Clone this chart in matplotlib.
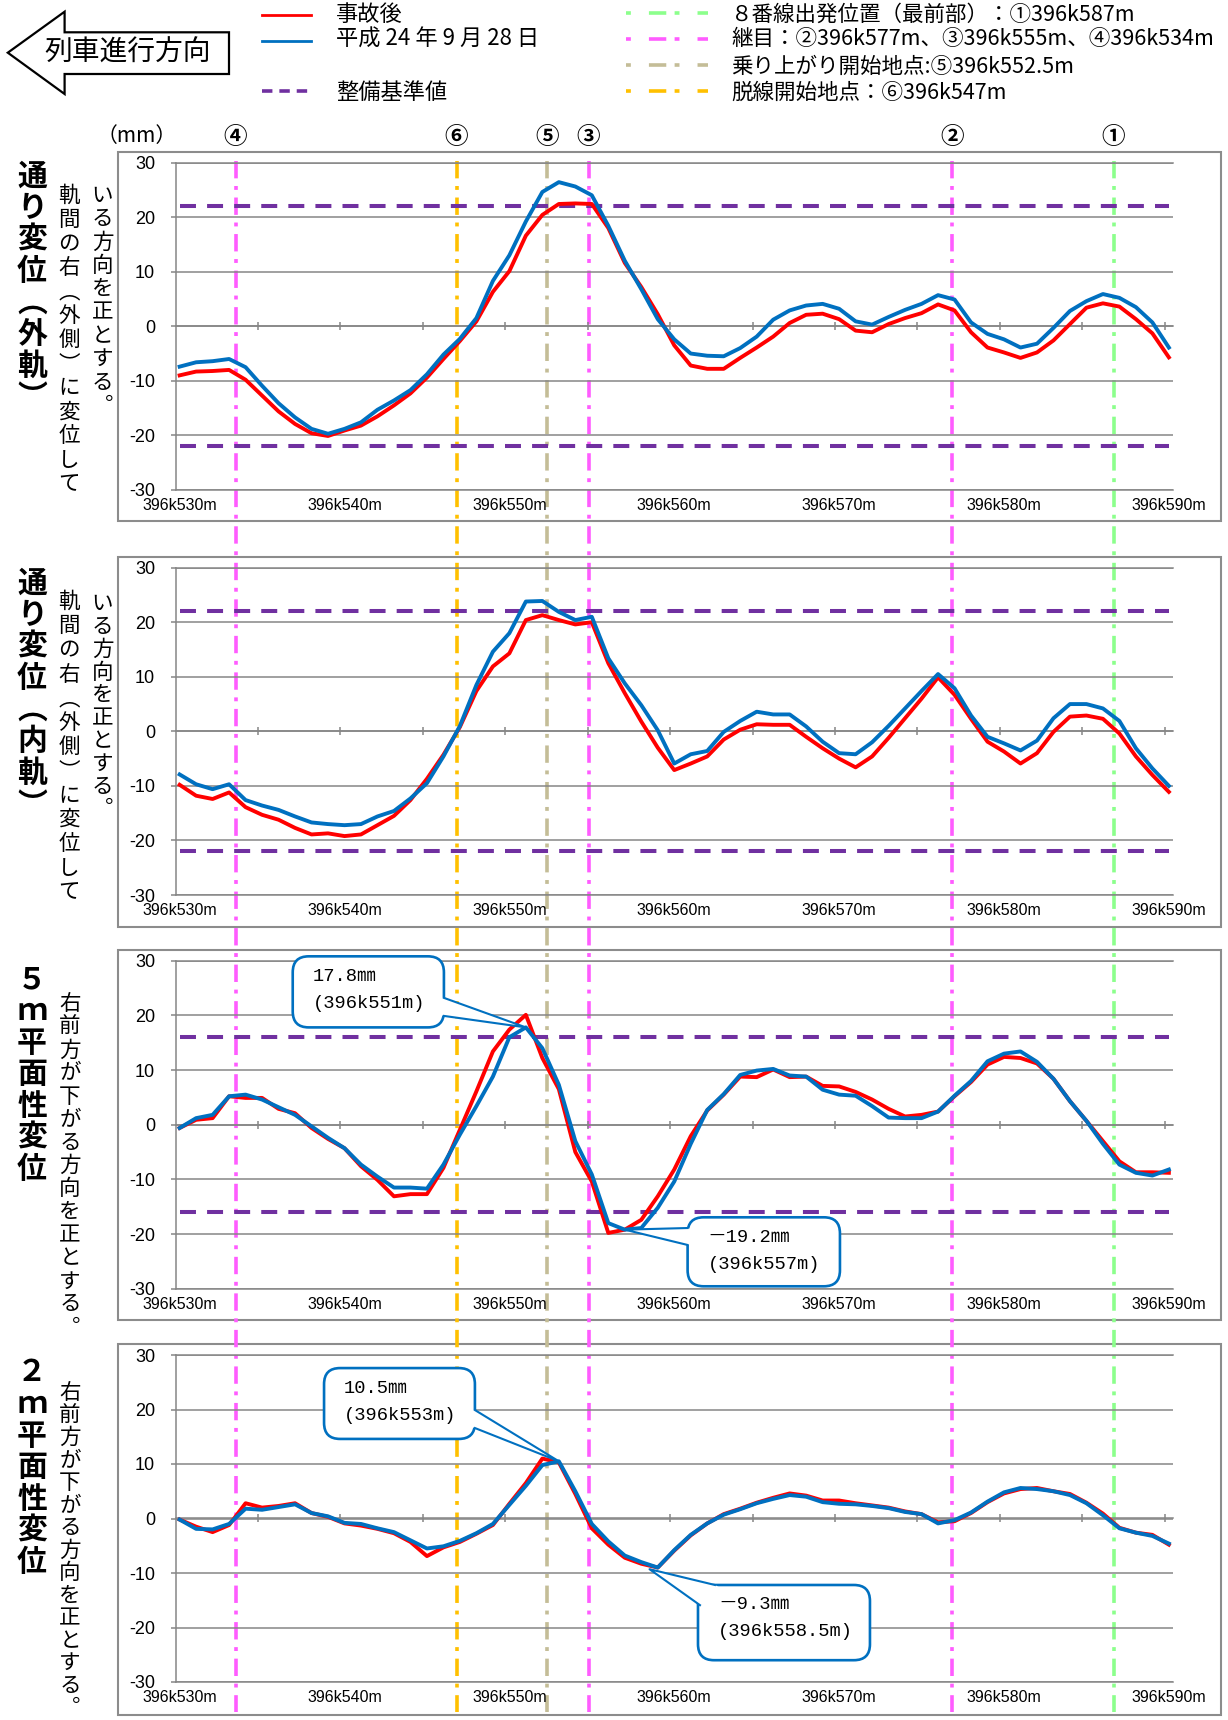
import numpy as np
import matplotlib
matplotlib.use("Agg")
import matplotlib.pyplot as plt
from matplotlib.patches import FancyBboxPatch, Polygon, Rectangle
from matplotlib.lines import Line2D
from matplotlib.transforms import IdentityTransform, blended_transform_factory

plt.rcParams['lines.scale_dashes'] = False
plt.rcParams['font.family'] = ['Noto Sans CJK JP', 'DejaVu Sans']

# ---------------- data ----------------
distance_m = list(range(530, 591))

align_outer_after = [-9.0, -8.3, -8.2, -8.0, -9.8, -12.7, -15.6, -17.9, -19.6, -20.1,
                     -19.1, -18.2, -16.5, -14.5, -12.3, -9.4, -6.0, -2.7, 0.9, 6.3,
                     10.1, 16.6, 20.4, 22.4, 22.5, 22.4, 18.0, 11.6, 7.2, 2.2,
                     -3.5, -7.2, -7.8, -7.8, -5.8, -3.9, -1.9, 0.6, 2.1, 2.3,
                     1.3, -0.8, -1.1, 0.4, 1.5, 2.4, 4.0, 2.9, -1.1, -3.9,
                     -4.8, -5.8, -4.8, -2.6, 0.4, 3.4, 4.2, 3.6, 1.3, -1.3,
                     -5.7]
align_outer_2012 = [-7.4, -6.6, -6.4, -6.0, -7.5, -10.9, -14.1, -16.7, -18.8, -19.7,
                    -18.8, -17.6, -15.3, -13.6, -11.7, -8.8, -5.2, -2.3, 1.5, 8.3,
                    13.0, 19.2, 24.6, 26.4, 25.6, 24.0, 18.4, 12.0, 6.8, 1.3,
                    -2.4, -5.0, -5.4, -5.5, -4.0, -1.9, 1.2, 2.9, 3.8, 4.1,
                    3.2, 0.9, 0.3, 1.7, 3.0, 4.1, 5.7, 4.9, 0.7, -1.4,
                    -2.4, -3.9, -3.2, -0.3, 2.8, 4.6, 5.9, 5.2, 3.5, 0.7,
                    -3.9]
align_inner_after = [-9.8, -11.8, -12.4, -11.2, -13.9, -15.3, -16.2, -17.7, -18.9, -18.7,
                     -19.2, -18.9, -17.2, -15.5, -12.6, -8.7, -4.3, 0.8, 7.4, 11.9,
                     14.3, 20.4, 21.3, 20.4, 19.6, 20.0, 12.5, 7.0, 1.8, -3.0,
                     -7.1, -5.9, -4.6, -1.5, 0.3, 1.3, 1.2, 1.2, -1.0, -3.1,
                     -5.0, -6.6, -4.6, -1.2, 2.4, 6.0, 9.9, 6.7, 2.3, -1.9,
                     -3.7, -5.9, -4.0, -0.1, 2.7, 2.9, 2.3, -0.4, -4.6, -8.0,
                     -11.1]
align_inner_2012 = [-7.9, -9.7, -10.6, -9.7, -12.6, -13.6, -14.4, -15.6, -16.7, -17.0,
                    -17.2, -17.0, -15.6, -14.6, -12.3, -9.5, -4.6, 1.0, 8.5, 14.6,
                    18.0, 23.8, 23.9, 21.9, 20.4, 21.0, 13.4, 8.8, 4.8, 0.2,
                    -5.9, -4.2, -3.6, -0.1, 1.9, 3.6, 3.1, 3.1, 0.9, -1.9,
                    -4.0, -4.2, -2.0, 1.0, 4.2, 7.4, 10.5, 7.9, 2.9, -1.0,
                    -2.2, -3.5, -1.7, 2.4, 5.0, 5.0, 4.2, 1.9, -3.1, -6.8,
                    -10.0]
twist5_after = [-0.6, 0.9, 1.2, 5.2, 4.9, 4.9, 2.9, 2.1, -0.6, -2.6,
                -4.3, -7.6, -10.1, -13.1, -12.7, -12.7, -7.9, -0.9, 6.1, 13.4,
                17.4, 20.1, 12.2, 6.5, -5.0, -10.4, -19.8, -19.2, -17.4, -13.1,
                -8.2, -2.1, 2.6, 5.5, 8.8, 8.7, 10.1, 8.7, 8.8, 7.1,
                7.0, 6.0, 4.6, 2.9, 1.5, 1.8, 2.4, 5.2, 7.8, 11.0,
                12.4, 12.2, 11.2, 8.4, 4.3, 0.7, -3.0, -6.7, -8.7, -8.7,
                -8.8]
twist5_2012 = [-0.6, 1.2, 1.8, 5.2, 5.5, 4.6, 3.2, 1.8, -0.3, -2.4,
               -4.3, -7.3, -9.5, -11.5, -11.5, -11.7, -7.3, -1.8, 3.4, 8.8,
               16.0, 17.8, 14.0, 7.3, -3.0, -9.1, -18.0, -19.2, -18.9, -15.2,
               -10.4, -3.5, 2.7, 5.6, 9.1, 9.9, 10.2, 9.0, 8.8, 6.4,
               5.5, 5.3, 3.4, 1.3, 1.2, 1.2, 2.4, 5.3, 8.0, 11.6,
               13.0, 13.4, 11.5, 8.4, 4.3, 0.7, -3.5, -7.3, -8.8, -9.3,
               -8.2]
twist2_after = [-0.2, -1.5, -2.5, -1.2, 2.8, 2.0, 2.3, 2.8, 1.0, 0.3,
                -0.9, -1.3, -1.9, -2.7, -4.3, -6.9, -5.3, -4.3, -2.8, -1.2,
                2.7, 6.5, 11.0, 10.3, 4.5, -1.8, -4.8, -7.2, -8.3, -9.0,
                -5.9, -3.1, -0.9, 0.8, 1.8, 2.9, 3.8, 4.6, 4.2, 3.3,
                3.3, 2.8, 2.4, 2.0, 1.3, 0.8, -0.7, -0.5, 1.0, 3.0,
                4.6, 5.4, 5.6, 5.0, 4.5, 2.9, 0.9, -1.7, -2.6, -3.0,
                -4.8]
twist2_2012 = [-0.2, -1.9, -2.0, -1.0, 1.8, 1.6, 2.1, 2.6, 1.0, 0.4,
               -0.8, -1.0, -1.8, -2.5, -4.0, -5.5, -5.1, -4.1, -2.7, -1.0,
               2.5, 6.0, 9.8, 10.5, 5.0, -1.0, -4.2, -6.8, -8.0, -9.0,
               -5.8, -3.0, -0.9, 0.7, 1.7, 2.8, 3.6, 4.3, 4.0, 3.0,
               2.7, 2.6, 2.3, 1.9, 1.2, 0.8, -0.9, -0.3, 1.1, 3.1,
               4.8, 5.6, 5.4, 5.0, 4.3, 2.8, 0.6, -1.8, -2.6, -3.2,
               -4.6]

tolerance_mm = [22, 22, 16, None]
y_ticks = [-30, -20, -10, 0, 10, 20, 30]
x_tick_values = [530, 540, 550, 560, 570, 580, 590]
x_tick_labels = ['396k530m', '396k540m', '396k550m', '396k560m',
                 '396k570m', '396k580m', '396k590m']
minor_tick_values = [535, 540, 545, 550, 555, 560, 565, 570, 575, 580, 585, 590]

marker_labels = ['①', '②', '③', '④', '⑤', '⑥']
marker_positions = [586.65, 576.85, 554.8, 533.4, 552.3, 546.8]
marker_colors = ['#8CFF8C', '#FF5CFF', '#FF5CFF', '#FF5CFF', '#C4BD97', '#FFC000']

legend_series = ['事故後', '平成 24 年 9 月 28 日', '整備基準値']
legend_markers = ['８番線出発位置（最前部）：①396k587m',
                  '継目：②396k577m、③396k555m、④396k534m',
                  '乗り上がり開始地点:⑤396k552.5m',
                  '脱線開始地点：⑥396k547m']

panel_titles = ['通り変位︵外軌︶', '通り変位︵内軌︶', '５ｍ平面性変位', '２ｍ平面性変位']

# callouts: (point x, point y, line1, line2)
callouts_5m = [(551, 17.8, '17.8㎜', '(396k551m)'), (557, -19.2, '－19.2㎜', '(396k557m)')]
callouts_2m = [(553, 10.5, '10.5㎜', '(396k553m)'), (558.5, -9.3, '－9.3㎜', '(396k558.5m)')]

# ---------------- styling / layout ----------------
W, H = 1228, 1720
fig = plt.figure(figsize=(W / 100, H / 100), dpi=100)
fig.patch.set_facecolor('white')


def fx(px):
    return px / W


def fy(py):
    return 1 - py / H


GRID = '#868686'
RED = '#FF0000'
BLUE = '#0070C0'
PURPLE = '#7030A0'
NUM = ['Liberation Sans', 'DejaVu Sans']
JP = ['Noto Sans CJK JP', 'DejaVu Sans']
MONO = ['Liberation Mono', 'Noto Sans CJK JP']
DASHDOT = (0, (12.5, 5.5, 2.8, 5.5))

panel_px = [(162.5, 490.0), (567.7, 895.0), (960.7, 1288.7), (1355.0, 1682.0)]
frame_px = [(152, 521), (557, 927), (950, 1320), (1344, 1715)]
AX_L, AX_R = 175.5, 1173.0

# panel frames
for top, bot in frame_px:
    fig.add_artist(Rectangle((fx(118), fy(bot)), fx(1221) - fx(118), (bot - top) / H,
                             transform=fig.transFigure, fill=False, edgecolor='#8C8C8C',
                             lw=1.5, zorder=-2))

series = [(align_outer_after, align_outer_2012), (align_inner_after, align_inner_2012),
          (twist5_after, twist5_2012), (twist2_after, twist2_2012)]
axes = []
for (top, bot), (after, before), lim in zip(panel_px, series, tolerance_mm):
    ax = fig.add_axes([fx(AX_L), fy(bot), (AX_R - AX_L) / W, (bot - top) / H])
    ax.set_facecolor('none')
    ax.set_xlim(529.75, 590.25)
    ax.set_ylim(-30, 30)
    ax.set_yticks(y_ticks)
    ax.set_yticklabels([str(v) for v in y_ticks], fontsize=13, family=NUM)
    ax.set_xticks(x_tick_values)
    ax.set_xticklabels(x_tick_labels, fontsize=11.5, family=NUM)
    ax.tick_params(axis='x', length=0, pad=6)
    ax.tick_params(axis='y', length=3.6, width=1.1, color=GRID, pad=11)
    ax.grid(axis='y', color=GRID, lw=1.1)
    ax.set_axisbelow(True)
    for s in ['top', 'bottom', 'left']:
        ax.spines[s].set_color(GRID)
        ax.spines[s].set_linewidth(1.1)
    ax.spines['right'].set_visible(False)
    sec = ax.secondary_xaxis(0.5)
    sec.set_xticks([v - 0.25 for v in minor_tick_values])
    sec.tick_params(axis='x', direction='inout', length=6, width=1.1, color=GRID,
                    labeltop=False, labelbottom=False)
    for sp in sec.spines.values():
        sp.set_color(GRID)
        sp.set_linewidth(1.1)
    if lim is not None:
        for v in (lim, -lim):
            ax.plot([distance_m[0], distance_m[-1]], [v, v], color=PURPLE, lw=2.9,
                    linestyle=(0, (11.5, 8)), zorder=2)
    ax.plot(distance_m, after, color=RED, lw=2.8, solid_joinstyle='round', zorder=3)
    ax.plot(distance_m, before, color=BLUE, lw=2.8, solid_joinstyle='round', zorder=4)
    axes.append(ax)

# marker lines crossing all panels
trans = blended_transform_factory(axes[0].transData, fig.transFigure)
for pos, col, lab in zip(marker_positions, marker_colors, marker_labels):
    fig.add_artist(Line2D([pos, pos], [fy(161), fy(1712)], transform=trans, color=col,
                          lw=2.6, linestyle=DASHDOT, zorder=-1))
    fig.text(pos, fy(137), lab, transform=trans, ha='center', va='center',
             fontsize=17, fontweight='bold', family=JP)

fig.text(fx(137), fy(136), '（mm）', ha='center', va='center', fontsize=15, family=JP)


# vertical text helper
def vtext(x_px, y0_px, step_px, s, size, weight='normal'):
    em = size * 100 / 72
    for i, ch in enumerate(s):
        cy = y0_px + i * step_px
        fig.text(fx(x_px), fy(cy + 0.38 * em), ch, ha='center', va='baseline',
                 fontsize=size, fontweight=weight, family=JP)


vtext(32, 174, 31.5, panel_titles[0], 21.5, 'bold')
vtext(32, 581, 31.6, panel_titles[1], 21.5, 'bold')
vtext(32, 977, 31.6, panel_titles[2], 21.5, 'bold')
vtext(32, 1370, 31.6, panel_titles[3], 21.5, 'bold')

vtext(69, 194, 24.0, '軌間の右︵外側︶に変位して', 15.5)
vtext(102.5, 194, 23.3, 'いる方向を正とする︒', 15.5)
vtext(69, 600, 24.2, '軌間の右︵外側︶に変位して', 15.5)
vtext(102.5, 602, 22.8, 'いる方向を正とする︒', 15.5)
vtext(70, 1002, 23.1, '右前方が下がる方向を正とする︒', 15.5)
vtext(70, 1391, 22.5, '右前方が下がる方向を正とする︒', 15.5)

# direction arrow
arrow_pts = [(7.8, 52.7), (64.6, 11.7), (64.6, 32.3), (229, 32.3), (229, 74),
             (64.6, 74), (64.6, 94)]
fig.add_artist(Polygon([(fx(x), fy(y)) for x, y in arrow_pts], closed=True,
                       transform=fig.transFigure, facecolor='white', edgecolor='black',
                       lw=1.6))
fig.text(fx(128), fy(53), '列車進行方向', ha='center', va='center', fontsize=20, family=JP)

# legend
leg_left = [(RED, '-', 15, 2.0), (BLUE, '-', 40.7, 2.0), (PURPLE, (0, (7.5, 5)), 90.7, 2.6)]
for (col, ls, yy, lw), txt in zip(leg_left, legend_series):
    fig.add_artist(Line2D([fx(262), fx(311)], [fy(yy), fy(yy)], transform=fig.transFigure,
                          color=col, lw=lw, linestyle=ls))
for txt, yy in zip(legend_series, [14.5, 39.5, 92]):
    fig.text(fx(336), fy(yy), txt, ha='left', va='center', fontsize=16, family=JP)
for col, yy, txt, ty in zip([marker_colors[0], marker_colors[1], marker_colors[4], marker_colors[5]],
                            [12.5, 38.5, 65, 91], legend_markers, [15, 39, 67, 92.5]):
    fig.add_artist(Line2D([fx(626), fx(708)], [fy(yy), fy(yy)], transform=fig.transFigure,
                          color=col, lw=2.6, linestyle=(0, (3.5, 13, 12.5, 6))))
    fig.text(fx(731), fy(ty), txt, ha='left', va='center', fontsize=15.5, family=JP)


# callouts
def callout(ax, point, texts, box, base):
    T = ax.transData
    x0, y0 = T.transform((box[0], box[2]))
    x1, y1 = T.transform((box[1], box[3]))
    left, right = min(x0, x1), max(x0, x1)
    bottom, top = min(y0, y1), max(y0, y1)
    fig.add_artist(FancyBboxPatch((left, bottom), right - left, top - bottom,
                                  boxstyle='round,pad=0,rounding_size=16',
                                  transform=IdentityTransform(), facecolor='white',
                                  edgecolor=BLUE, lw=1.9, zorder=5))
    b1 = T.transform(base[0])
    b2 = T.transform(base[1])
    tp = T.transform(point)
    ctr = ((left + right) / 2, (top + bottom) / 2)
    fig.add_artist(Polygon([b1, tp, b2, ctr], closed=True, transform=IdentityTransform(),
                           facecolor='white', edgecolor='none', zorder=5.1))
    fig.add_artist(Line2D([b1[0], tp[0], b2[0]], [b1[1], tp[1], b2[1]],
                          transform=IdentityTransform(), color=BLUE, lw=1.5, zorder=5.2))
    fig.text(left + 20, top - 20, texts[0], transform=IdentityTransform(), ha='left',
             va='center', fontsize=13.5, family=MONO, zorder=6)
    fig.text(left + 20, top - 47, texts[1], transform=IdentityTransform(), ha='left',
             va='center', fontsize=13.5, family=MONO, zorder=6)


callout_boxes_5m = [((536.86, 546.03, 17.8, 30.8), ((546.03, 23.2), (546.03, 19.9))),
                    ((560.81, 570.05, -29.56, -16.94), ((560.81, -18.9), (560.81, -22.0)))]
callout_boxes_2m = [((538.76, 547.91, 14.6, 27.6), ((547.91, 19.9), (547.91, 16.6))),
                    ((561.44, 571.87, -26.0, -12.2), ((561.56, -15.9), (562.47, -12.2)))]

for (px_, py_, t1, t2), (box, base) in zip(callouts_5m, callout_boxes_5m):
    callout(axes[2], (px_, py_), (t1, t2), box, base)
for (px_, py_, t1, t2), (box, base) in zip(callouts_2m, callout_boxes_2m):
    callout(axes[3], (px_, py_), (t1, t2), box, base)

fig.savefig('out.png', dpi=100, facecolor='white')
